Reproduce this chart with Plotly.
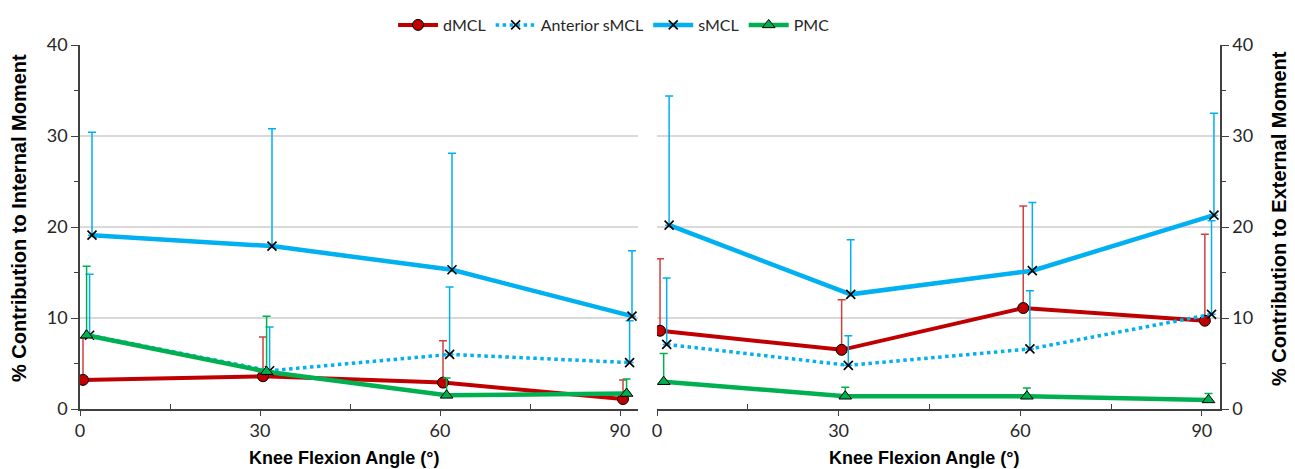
import plotly.graph_objects as go

angles = [0, 30, 60, 90]
series_names = ["dMCL", "Anterior sMCL", "sMCL", "PMC"]

# Internal moment (left panel)
int_dmcl = [3.2, 3.6, 2.9, 1.1]
int_dmcl_err = [4.6, 4.3, 4.6, 2.1]
int_ant = [8.1, 4.2, 6.0, 5.1]
int_ant_err = [6.7, 4.8, 7.4, 4.6]
int_smcl = [19.1, 17.9, 15.3, 10.2]
int_smcl_err = [11.3, 12.9, 12.8, 7.2]
int_pmc = [8.1, 4.1, 1.5, 1.7]
int_pmc_err = [7.6, 6.1, 1.9, 1.6]

# External moment (right panel)
ext_dmcl = [8.6, 6.5, 11.1, 9.7]
ext_dmcl_err = [7.9, 5.5, 11.2, 9.5]
ext_ant = [7.1, 4.8, 6.6, 10.4]
ext_ant_err = [7.3, 3.25, 6.4, 10.3]
ext_smcl = [20.2, 12.6, 15.2, 21.3]
ext_smcl_err = [14.2, 6.0, 7.5, 11.2]
ext_pmc = [3.0, 1.4, 1.4, 1.0]
ext_pmc_err = [3.1, 1.0, 0.9, 0.7]

x_title = "Knee Flexion Angle (°)"
y_title_left = "% Contribution to Internal Moment"
y_title_right = "% Contribution to External Moment"

RED = "#C00000"
BLUE = "#00B0F0"
GREEN = "#00B050"

# small horizontal jitter per series (style)
offsets = {"dMCL": 0.5, "Anterior sMCL": 1.6, "sMCL": 2.0, "PMC": 1.1}

styles = {
    "dMCL": dict(line=dict(color=RED, width=4),
                 marker=dict(symbol="circle", size=11, color=RED, line=dict(color="black", width=1)),
                 err="rgba(192,0,0,0.75)"),
    "Anterior sMCL": dict(line=dict(color=BLUE, width=3.5, dash="dot"),
                          marker=dict(symbol="x-thin", size=9, color="black", line=dict(color="black", width=1.6)),
                          err=BLUE),
    "sMCL": dict(line=dict(color=BLUE, width=4.5),
                 marker=dict(symbol="x-thin", size=9, color="black", line=dict(color="black", width=1.6)),
                 err=BLUE),
    "PMC": dict(line=dict(color=GREEN, width=4.5),
                marker=dict(symbol="triangle-up", size=11, color=GREEN, line=dict(color="black", width=1)),
                err=GREEN),
}

panels = [
    ("x", "y", [int_dmcl, int_ant, int_smcl, int_pmc], [int_dmcl_err, int_ant_err, int_smcl_err, int_pmc_err], True),
    ("x2", "y2", [ext_dmcl, ext_ant, ext_smcl, ext_pmc], [ext_dmcl_err, ext_ant_err, ext_smcl_err, ext_pmc_err], False),
]

fig = go.Figure()
for xa, ya, vals, errs, show in panels:
    for name, v, e in zip(series_names, vals, errs):
        st = styles[name]
        fig.add_trace(go.Scatter(
            x=[a + offsets[name] for a in angles], y=v,
            mode="lines+markers", name=name, legendgroup=name, showlegend=show,
            line=st["line"], marker=st["marker"],
            error_y=dict(type="data", array=e, arrayminus=[0] * len(e), symmetric=False,
                         color=st["err"], thickness=1.5, width=4),
            xaxis=xa, yaxis=ya,
        ))

AX = "#404040"
tickfont = dict(family="Lato, Liberation Sans, sans-serif", size=18, color="#262626")
xtitlefont = dict(family="Liberation Sans, Arial, sans-serif", size=18, color="black", weight="bold")
ytitlefont = dict(family="Liberation Sans, Arial, sans-serif", size=20, color="black", weight="bold")

xcommon = dict(range=[0, 93], tickvals=angles, ticks="outside", ticklen=5, tickwidth=1.3,
               tickcolor=AX, showline=True, linecolor=AX, linewidth=1.5, showgrid=False,
               zeroline=False, tickfont=tickfont, automargin=False,
               minor=dict(tickvals=[15, 45, 75], ticks="inside", ticklen=5, tickcolor=AX, tickwidth=1.3, showgrid=False))
ycommon = dict(range=[0, 40], tickvals=[0, 10, 20, 30, 40], ticks="outside", ticklen=7, tickwidth=1.3,
               tickcolor=AX, showline=True, linecolor=AX, linewidth=1.5, showgrid=True,
               gridcolor="#D9D9D9", gridwidth=1.5, zeroline=False, tickfont=tickfont, automargin=False,
               minor=dict(tickvals=[5, 15, 25, 35], ticks="outside", ticklen=4, tickcolor=AX, tickwidth=1.3, showgrid=False))

W, H = 1295, 469
OFF = 8  # page body margin offset


def px(xp):
    return (xp - OFF) / W


def py(yp):
    return 1 - (yp - OFF) / H


fig.update_layout(
    width=W, height=H,
    margin=dict(l=0, r=0, t=0, b=0),
    paper_bgcolor="white", plot_bgcolor="white",
    xaxis=dict(domain=[px(80), px(638)], anchor="y", **xcommon),
    xaxis2=dict(domain=[px(657), px(1220)], anchor="y2", **xcommon),
    yaxis=dict(domain=[py(409), py(45)], anchor="x", side="left", **ycommon),
    yaxis2=dict(domain=[py(409), py(45)], anchor="x2", side="right", **ycommon),
    legend=dict(orientation="h", x=0.468, xanchor="center", y=1.0, yanchor="top", itemwidth=40,
                font=dict(family="Lato, Liberation Sans, sans-serif", size=16, color="#262626"),
                traceorder="normal", bgcolor="rgba(0,0,0,0)"),
    showlegend=True,
    annotations=[
        dict(text=x_title, xref="paper", yref="paper", x=px(344), y=py(458), showarrow=False,
             xanchor="center", yanchor="middle", font=xtitlefont),
        dict(text=x_title, xref="paper", yref="paper", x=px(924), y=py(458), showarrow=False,
             xanchor="center", yanchor="middle", font=xtitlefont),
        dict(text=y_title_left, xref="paper", yref="paper", x=px(19), y=py(218), showarrow=False,
             textangle=-90, xanchor="center", yanchor="middle", font=ytitlefont),
        dict(text=y_title_right, xref="paper", yref="paper", x=px(1279), y=py(219), showarrow=False,
             textangle=-90, xanchor="center", yanchor="middle", font=ytitlefont),
    ],
)

fig.write_html("out.html")
